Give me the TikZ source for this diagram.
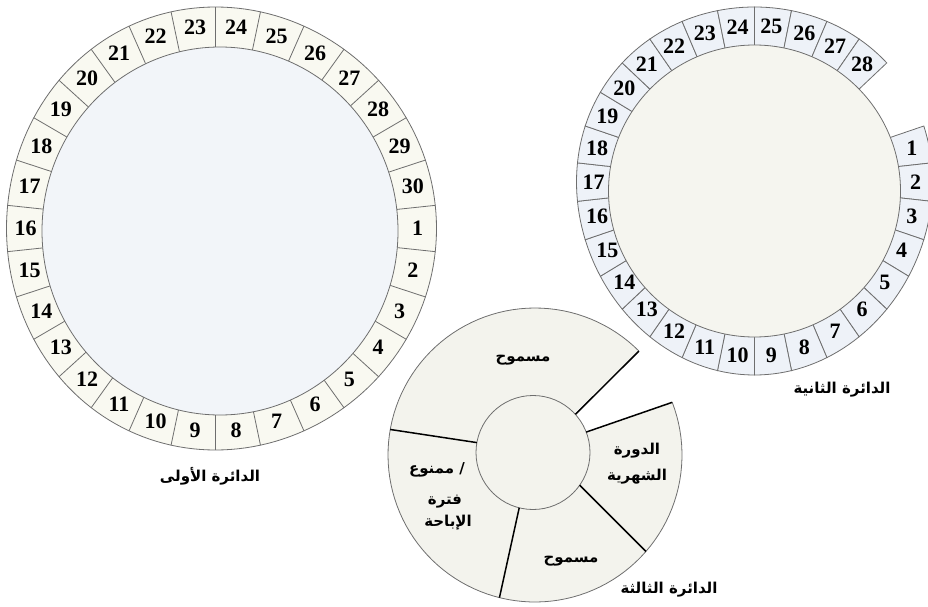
\documentclass[tikz,border=0pt]{standalone}
\usepackage{fontspec}
\setmainfont{Liberation Serif}
\newfontfamily\numfont{Liberation Serif}
\newfontfamily\arabicfont[Script=Arabic]{DejaVu Sans}
\TeXXeTstate=1
\definecolor{ringA}{HTML}{F9F9F1}
\definecolor{innerA}{HTML}{F2F5F9}
\definecolor{ringB}{HTML}{EEF2F8}
\definecolor{innerB}{HTML}{F5F5EF}
\definecolor{fillC}{HTML}{F3F3ED}
\definecolor{edge}{HTML}{6E6E6E}
\begin{document}
\begin{tikzpicture}[x=1pt,y=-1pt,
  seg/.style={draw=edge, line width=0.8pt},
  num/.style={font=\numfont\bfseries\fontsize{22}{22}\selectfont, inner sep=0pt},
  ar/.style={font=\arabicfont\bfseries\fontsize{15}{17}\selectfont, inner sep=0pt},
  cut/.style={draw=black, line width=1.5pt}]
\useasboundingbox (0,0) rectangle (928,607);
% ---------- circle 1 ----------
\draw[seg, fill=ringA] plot[domain=0:360, samples=181]
  ({221.5+215*cos(\x)-6*sin(\x)^2}, {228.5+221.5*sin(\x)}) -- cycle;
\foreach \k in {1,...,30}{
  \pgfmathsetmacro{\a}{(\k-1)*12-6}
  \draw[seg] ({221.5+168*cos(\a)-6*sin(\a)^2}, {228.5+174*sin(\a)})
          -- ({221.5+215*cos(\a)-6*sin(\a)^2}, {228.5+221.5*sin(\a)});
}
\draw[seg, fill=innerA] (220,231) ellipse[x radius=178, y radius=184];
\foreach \k in {1,...,30}{
  \pgfmathsetmacro{\t}{(\k-1)*12}
  \node[num] (a\k) at ({221.5+196*cos(\t)-6*sin(\t)^2}, {228.5+202.5*sin(\t)}) {\k};
}
% ---------- circle 2 ----------
\foreach \k in {1,...,28}{
  \pgfmathsetmacro{\a}{(\k-2)*12-6}
  \pgfmathsetmacro{\b}{\a+12}
  \draw[seg, fill=ringB]
    plot[domain=\a:\b, samples=7] ({754.5+178*cos(\x)}, {191+184*sin(\x)-9*cos(\x)^2})
    -- plot[domain=\b:\a, samples=7] ({754.5+138*cos(\x)}, {191+142*sin(\x)-9*cos(\x)^2})
    -- cycle;
}
\draw[seg, fill=innerB] (754.5,191) circle[radius=146];
\foreach \k in {1,...,28}{
  \pgfmathsetmacro{\t}{(\k-2)*12}
  \node[num] (b\k) at ({754.5+161*cos(\t)}, {191+165*sin(\t)-9*cos(\t)^2}) {\k};
}
% ---------- circle 3 ----------
\fill[fillC] plot[domain=-21:315, samples=120] ({535+147*cos(\x)}, {455+147*sin(\x)})
  -- (533,452.5) -- cycle;
\draw[seg] plot[domain=-21:315, samples=120] ({535+147*cos(\x)}, {455+147*sin(\x)});
\draw[seg, fill=fillC] (533,452.5) circle[radius=57];
\draw[cut] ({533+57*cos(-42)},{452.5+57*sin(-42)}) -- ({535+147*cos(-45)},{455+147*sin(-45)});
\draw[cut] ({533+57*cos(-21)},{452.5+57*sin(-21)}) -- ({535+147*cos(-21)},{455+147*sin(-21)});
\draw[cut] ({533+57*cos(35)},{452.5+57*sin(35)}) -- ({535+147*cos(41)},{455+147*sin(41)});
\draw[cut] ({533+57*cos(104)},{452.5+57*sin(104)}) -- ({535+147*cos(104)},{455+147*sin(104)});
\draw[cut] ({533+57*cos(190)},{452.5+57*sin(190)}) -- ({535+147*cos(190)},{455+147*sin(190)});
% ---------- texts ----------
\node[ar] (t1) at (210,476) {\beginR الدائرة الأولى\endR};
\node[ar] (t2) at (842,390) {\beginR الدائرة الثانية\endR};
\node[ar] (t3) at (669,590) {\beginR الدائرة الثالثة\endR};
\node[ar] (s1) at (523,360) {\beginR مسموح\endR};
\node[ar] (s2a) at (637,451) {\beginR الدورة\endR};
\node[ar] (s2b) at (637,477) {\beginR الشهرية\endR};
\node[ar] (s3) at (571,561) {\beginR مسموح\endR};
\node[ar] (s4a) at (437,470) {\beginR ممنوع\endR\ /};
\node[ar] (s4b) at (445,502) {\beginR فترة\endR};
\node[ar] (s4c) at (448,523) {\beginR الإباحة\endR};
\end{tikzpicture}
\end{document}
